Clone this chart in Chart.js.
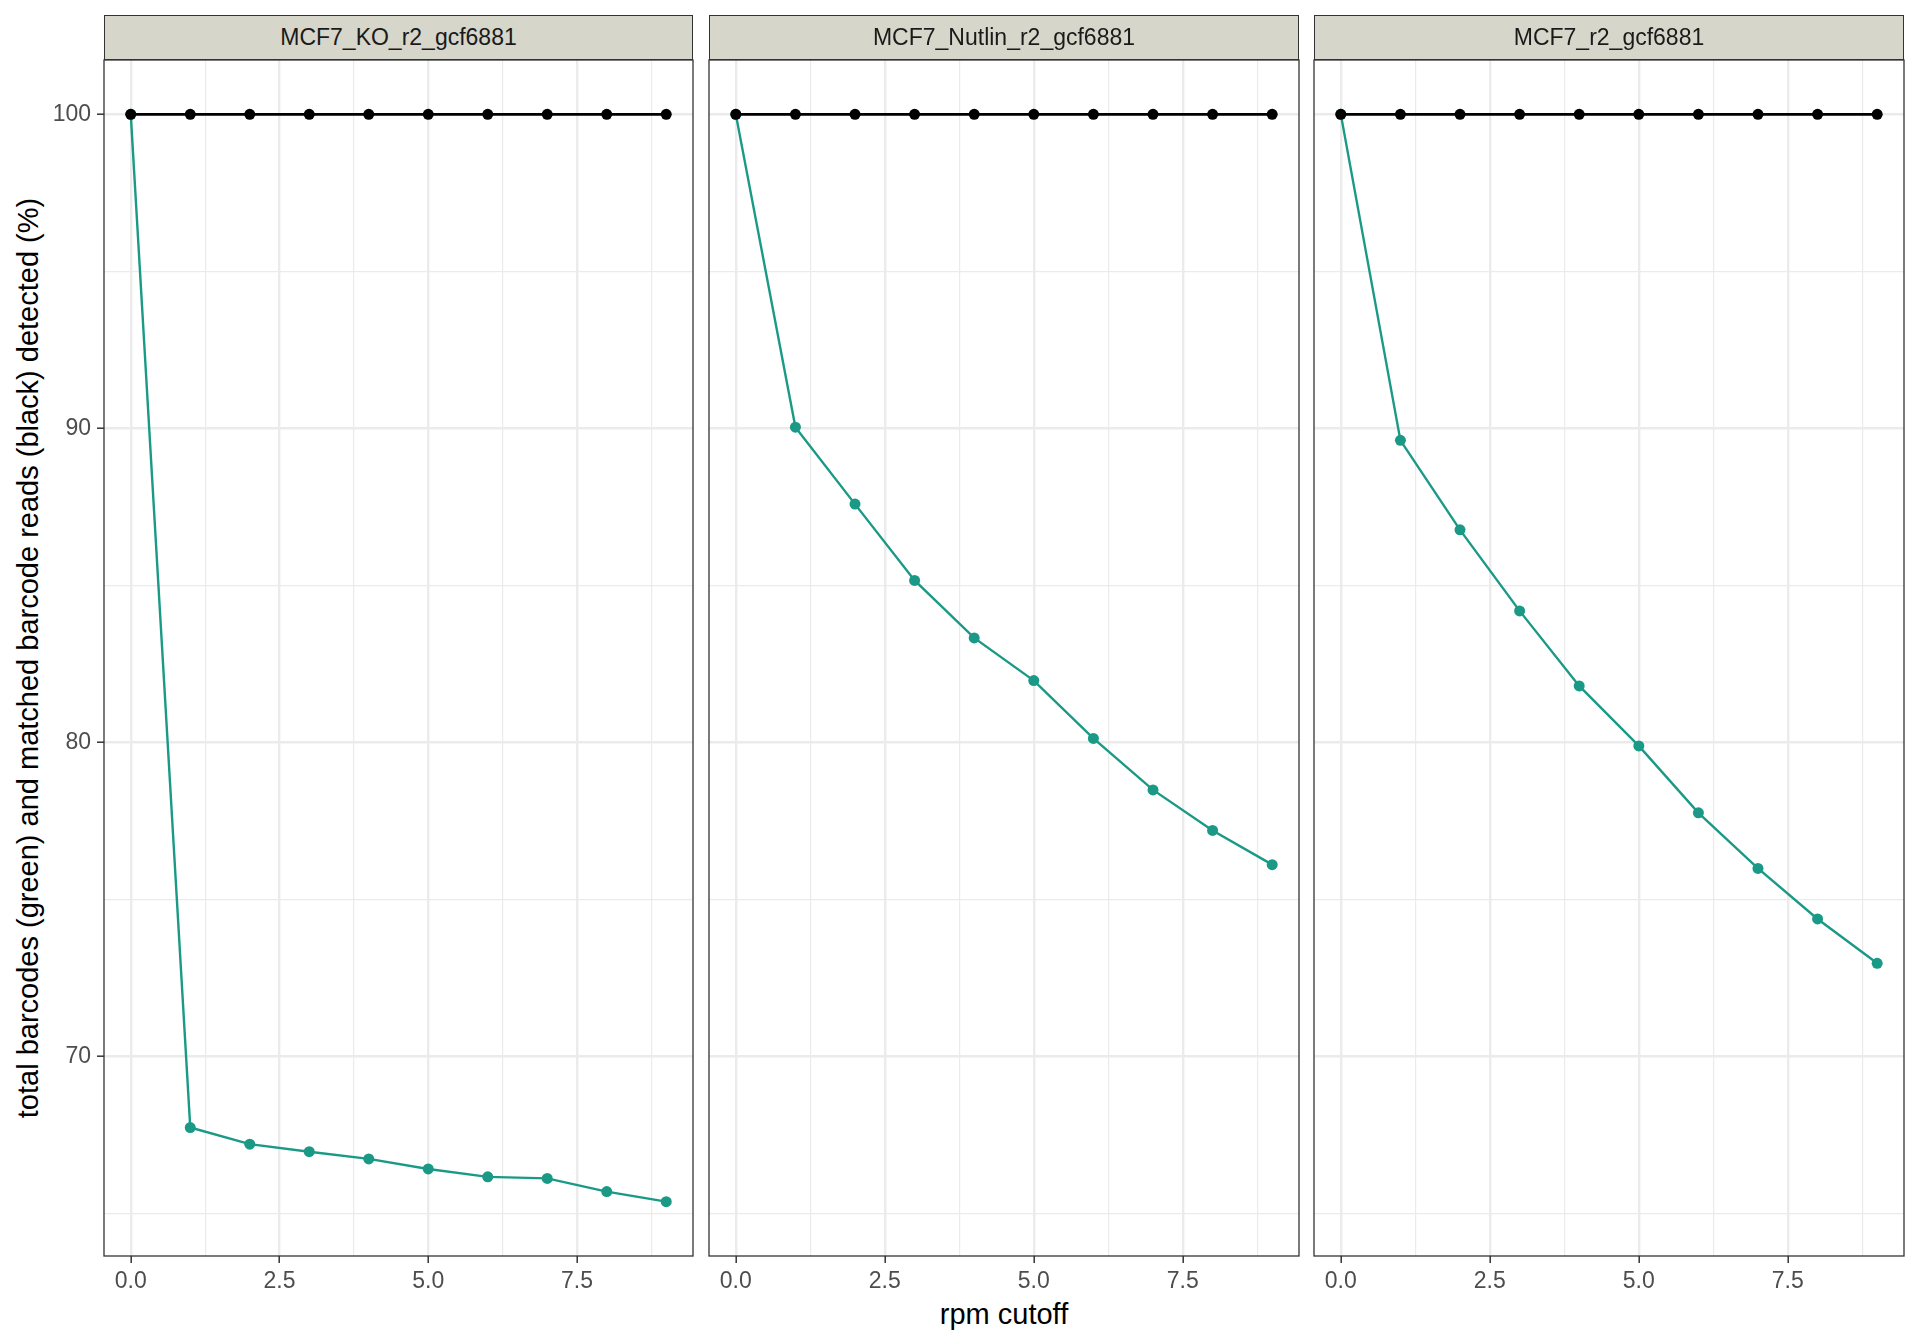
<!DOCTYPE html>
<html>
<head>
<meta charset="utf-8">
<script src="https://cdn.jsdelivr.net/npm/chart.js@4.4.1/dist/chart.umd.min.js"></script>
<style>
  body { margin: 0; background: #fff; width: 1920px; height: 1344px; position: relative; overflow: hidden;
         font-family: "Liberation Sans", Arial, sans-serif; }
  .strip { position: absolute; top: 15px; height: 45px; box-sizing: border-box; background: #d6d6ca;
           border: 1.3px solid #333; display: flex; align-items: center; justify-content: center;
           font-size: 23px; color: #1a1a1a; z-index: 2; }
  canvas { position: absolute; }
  .xtitle { position: absolute; left: 1004px; top: 1314px; transform: translate(-50%, -50%);
            font-size: 29px; color: #000; white-space: nowrap; }
  .ytitle { position: absolute; left: 28px; top: 658px; transform: translate(-50%, -50%) rotate(-90deg);
            font-size: 29px; color: #000; white-space: nowrap; }
</style>
</head>
<body>
<div class="xtitle">rpm cutoff</div>
<div class="ytitle">total barcodes (green) and matched barcode reads (black) detected (%)</div>
<script>
// data
const cutoffs = [0, 1, 2, 3, 4, 5, 6, 7, 8, 9];
const panelNames = ["MCF7_KO_r2_gcf6881", "MCF7_Nutlin_r2_gcf6881", "MCF7_r2_gcf6881"];

const readsKO = [100, 100, 100, 100, 100, 100, 100, 100, 100, 100];
const readsNutlin = [100, 100, 100, 100, 100, 100, 100, 100, 100, 100];
const readsWT = [100, 100, 100, 100, 100, 100, 100, 100, 100, 100];

const barcodesKO = [100, 67.74, 67.21, 66.97, 66.74, 66.42, 66.17, 66.12, 65.70, 65.38];
const barcodesNutlin = [100, 90.04, 87.59, 85.16, 83.33, 81.97, 80.13, 78.49, 77.20, 76.11];
const barcodesWT = [100, 89.62, 86.77, 84.19, 81.80, 79.89, 77.76, 75.99, 74.38, 72.97];

const xTicks = [0, 2.5, 5, 7.5];
const xMinorTicks = [1.25, 3.75, 6.25, 8.75];
const yTicks = [70, 80, 90, 100];
const yMinorTicks = [65, 75, 85, 95];

const reads = [readsKO, readsNutlin, readsWT];
const barcodes = [barcodesKO, barcodesNutlin, barcodesWT];

// ggplot-like 5% expansion of the shared scales
const allY = reads.flat().concat(barcodes.flat());
const yLo = Math.min(...allY), yHi = Math.max(...allY);
const yPad = (yHi - yLo) * 0.05;
const xPad = (cutoffs[cutoffs.length - 1] - cutoffs[0]) * 0.05;

const GREEN = "#1a9a86";
const FONT = "'Liberation Sans', Arial, sans-serif";

// panel boxes in page pixels
const panels = [
  { left: 104, right: 693 },
  { left: 709, right: 1299 },
  { left: 1314, right: 1904 },
];
const plotTop = 60, plotBottom = 1256;

const panelBorder = {
  id: "panelBorder",
  afterDatasetsDraw(chart) {
    const { left, top, right, bottom } = chart.chartArea;
    const ctx = chart.ctx;
    ctx.save();
    ctx.strokeStyle = "#333333";
    ctx.lineWidth = 1.3;
    ctx.strokeRect(left, top, right - left, bottom - top);
    ctx.restore();
  },
};

const toPoints = (vals) => cutoffs.map((x, i) => ({ x: x, y: vals[i] }));
const isMajor = (list, v) => list.some((t) => Math.abs(t - v) < 1e-6);

panels.forEach((p, i) => {
  // strip label
  const strip = document.createElement("div");
  strip.className = "strip";
  strip.style.left = p.left + "px";
  strip.style.width = (p.right - p.left) + "px";
  strip.textContent = panelNames[i];
  document.body.appendChild(strip);

  const first = i === 0;
  const yw = first ? 104 : 0;
  const padL = first ? 0 : 10;
  const padT = 24;
  const canvasLeft = p.left - yw - padL;
  const canvasTop = plotTop - padT;
  const w = p.right - canvasLeft + 10;
  const h = plotBottom - canvasTop + 60;

  const canvas = document.createElement("canvas");
  canvas.width = w;
  canvas.height = h;
  canvas.style.left = canvasLeft + "px";
  canvas.style.top = canvasTop + "px";
  canvas.style.width = w + "px";
  canvas.style.height = h + "px";
  document.body.appendChild(canvas);

  new Chart(canvas, {
    type: "line",
    data: {
      datasets: [
        {
          label: "matched barcode reads",
          data: toPoints(reads[i]),
          borderColor: "#000000",
          backgroundColor: "#000000",
          borderWidth: 2.8,
          pointRadius: 5.5,
          pointBorderWidth: 0,
          pointBackgroundColor: "#000000",
        },
        {
          label: "total barcodes",
          data: toPoints(barcodes[i]),
          borderColor: GREEN,
          backgroundColor: GREEN,
          borderWidth: 2.4,
          pointRadius: 5.5,
          pointBorderWidth: 0,
          pointBackgroundColor: GREEN,
        },
      ],
    },
    options: {
      responsive: false,
      animation: false,
      layout: { padding: { top: padT, right: 10, left: padL, bottom: 0 } },
      plugins: { legend: { display: false }, tooltip: { enabled: false } },
      scales: {
        x: {
          type: "linear",
          min: cutoffs[0] - xPad,
          max: cutoffs[cutoffs.length - 1] + xPad,
          afterBuildTicks: (ax) => {
            ax.ticks = xTicks.concat(xMinorTicks).sort((a, b) => a - b).map((v) => ({ value: v }));
          },
          afterFit: (ax) => { ax.height = 60; },
          border: { display: false },
          grid: {
            color: "#ebebeb",
            lineWidth: (c) => (isMajor(xTicks, c.tick.value) ? 2.4 : 1.2),
            tickColor: (c) => (isMajor(xTicks, c.tick.value) ? "#333333" : "rgba(0,0,0,0)"),
            tickLength: 7,
            tickWidth: 1.5,
          },
          ticks: {
            autoSkip: false,
            maxRotation: 0,
            padding: 5,
            color: "#4d4d4d",
            font: { size: 23, family: FONT },
            callback: (v) => (isMajor(xTicks, v) ? v.toFixed(1) : ""),
          },
        },
        y: {
          type: "linear",
          min: yLo - yPad,
          max: yHi + yPad,
          afterBuildTicks: (ax) => {
            ax.ticks = yTicks.concat(yMinorTicks).sort((a, b) => a - b).map((v) => ({ value: v }));
          },
          afterFit: (ax) => { ax.width = yw; },
          border: { display: false },
          grid: {
            color: "#ebebeb",
            lineWidth: (c) => (isMajor(yTicks, c.tick.value) ? 2.4 : 1.2),
            drawTicks: first,
            tickColor: (c) => (isMajor(yTicks, c.tick.value) ? "#333333" : "rgba(0,0,0,0)"),
            tickLength: 7,
            tickWidth: 1.5,
          },
          ticks: {
            display: first,
            autoSkip: false,
            padding: 6,
            color: "#4d4d4d",
            font: { size: 23, family: FONT },
            callback: (v) => (isMajor(yTicks, v) ? String(v) : ""),
          },
        },
      },
    },
    plugins: [panelBorder],
  });
});
</script>
</body>
</html>
